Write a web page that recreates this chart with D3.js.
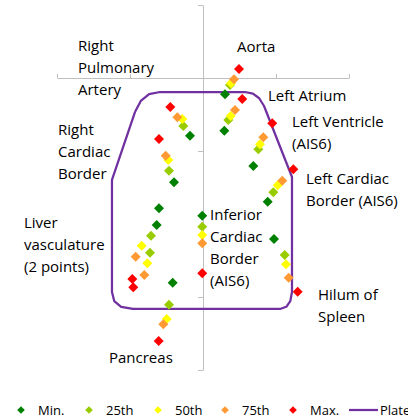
<!DOCTYPE html>
<html>
<head>
<meta charset="utf-8">
<script src="https://cdn.jsdelivr.net/npm/d3@7"></script>
<style>
  body { margin: 0; background: #fff; }
  text { font-family: "Open Sans", sans-serif; fill: #000; }
</style>
</head>
<body>
<div class="chart"></div>
<script>
// landmarks: Aorta, L.Atrium, R.Pulm.Artery, L.Ventricle, R.Cardiac, L.Cardiac, Liver 1, Liver 2, Inf.Cardiac, Hilum, Pancreas
var minX = [30.1, 29.2, -17.8, 68.9, -39.7, 88.6, -60.3, -63.4, -1, 97.3, -41.5];
var minY = [122.3, 172.2, 179, 220.5, 242.9, 269.5, 278.5, 301.4, 288.6, 320.5, 380.4];
var p25X = [37, 34.7, -27, 75.8, -46.6, 96.3, -71.2, -72.6, -1, 111.9, -46.6];
var p25Y = [109.6, 157.5, 165.8, 197.7, 227, 256.6, 316, 339.3, 303.7, 342.5, 410.5];
var p50X = [38.4, 37.9, -28.4, 78.1, -47.5, 102.3, -84, -76.3, -1, 113.7, -49.7];
var p50Y = [107.3, 152.1, 156.2, 190.8, 212.3, 247, 329.7, 353.8, 315.1, 355.2, 430.1];
var p75X = [42.5, 43.8, -35.2, 82.6, -51.1, 108.6, -92.2, -80.4, -1, 117.4, -54.4];
var p75Y = [101.8, 143.8, 153.8, 181.2, 206.4, 240.7, 344.8, 369.9, 326.4, 373.6, 437.4];
var maxX = [49.3, 53.8, -44.8, 94.9, -60.3, 123.7, -96.8, -95.5, -1, 129.7, -60.7];
var maxY = [87.7, 128.8, 139.7, 162.1, 183.6, 225.1, 375.3, 386.7, 367.5, 392.7, 460.3];

// plate outline
var plateX = [-93.2, -85.2, -73.8, -58.9, 57.5, 68.4, 77.0, 83.6, 121.9, 121.9, 119.6, 114.1, 105.5, -95.9, -112.1, -121.6, -124.7, -124.7, -93.2];
var plateY = [146.6, 131.4, 122.2, 119.2, 119.2, 121.4, 127.7, 138.4, 235.6, 393.2, 405.6, 413.4, 416.4, 416.4, 413.4, 405.6, 393.2, 239.7, 146.6];

var series = ["Min.", "25th", "50th", "75th", "Max."];
var color = ["#008000", "#99cc00", "#ffff00", "#ff9933", "#ff0000"];
var seriesX = [minX, p25X, p50X, p75X, maxX];
var seriesY = [minY, p25Y, p50Y, p75Y, maxY];

var xTicks = [-200, -100, 0, 100, 200];
var yTicks = [0, 200, 400, 500];

var labels = [
  {lines: ["Right", "Pulmonary", "Artery"], x: 78, y: 51},
  {lines: ["Aorta"], x: 237, y: 52},
  {lines: ["Left Atrium"], x: 268, y: 101},
  {lines: ["Left Ventricle", "(AIS6)"], x: 292, y: 127},
  {lines: ["Right", "Cardiac", "Border"], x: 58, y: 135},
  {lines: ["Left Cardiac", "Border (AIS6)"], x: 306, y: 184},
  {lines: ["Inferior", "Cardiac", "Border", "(AIS6)"], x: 210, y: 220},
  {lines: ["Liver", "vasculature", "(2 points)"], x: 24, y: 228},
  {lines: ["Hilum of", "Spleen"], x: 318, y: 300},
  {lines: ["Pancreas"], x: 109, y: 363}
];

var svg = d3.select(".chart")
            .append("svg")
            .attr("width", 408)
            .attr("height", 419);

var x = d3.scaleLinear().domain([-200, 200]).range([57, 349]);
var y = d3.scaleLinear().domain([0, 500]).range([5, 370]);

// axes cross at x=0 / y=100
var yAxis = svg.append("g")
    .attr("transform", "translate(" + x(0) + ",0)")
    .call(d3.axisLeft(y).tickValues(yTicks).tickSize(5).tickSizeOuter(0).tickFormat(""));
var xAxis = svg.append("g")
    .attr("transform", "translate(0," + y(100) + ")")
    .call(d3.axisTop(x).tickValues(xTicks).tickSize(4).tickSizeOuter(0).tickFormat(""));
svg.selectAll(".domain, .tick line")
    .attr("stroke", "#bfbfbf")
    .attr("stroke-width", 1);

var diamond = function(r) {
  return "M0," + (-r) + "L" + r + ",0L0," + r + "L" + (-r) + ",0Z";
};

// plate
var plateLine = d3.line()
    .x(function(d) { return x(d[0]); })
    .y(function(d) { return y(d[1]); });
svg.append("path")
    .datum(d3.zip(plateX, plateY))
    .attr("d", plateLine)
    .attr("fill", "none")
    .attr("stroke", "#7030a0")
    .attr("stroke-width", 2.25)
    .attr("stroke-linejoin", "round");

// markers
for (var s = 0; s < series.length; s++) {
  svg.append("g").selectAll("path")
    .data(d3.zip(seriesX[s], seriesY[s]))
    .join("path")
    .attr("d", diamond(5))
    .attr("transform", function(d) { return "translate(" + x(d[0]) + "," + y(d[1]) + ")"; })
    .attr("fill", color[s]);
}

// labels
labels.forEach(function(l) {
  var t = svg.append("text")
      .attr("x", l.x)
      .attr("y", l.y)
      .style("font-size", "15px");
  l.lines.forEach(function(line, i) {
    t.append("tspan")
      .attr("x", l.x)
      .attr("dy", i == 0 ? 0 : 22)
      .text(line);
  });
});

// legend
var legendX = [21, 89, 158, 225, 293];
for (var i = 0; i < series.length; i++) {
  svg.append("path")
    .attr("d", diamond(3.8))
    .attr("transform", "translate(" + legendX[i] + ",410)")
    .attr("fill", color[i]);
  svg.append("text")
    .attr("x", legendX[i] + 17)
    .attr("y", 414.5)
    .text(series[i])
    .style("font-size", "13px");
}
svg.append("line")
  .attr("x1", 349).attr("y1", 410)
  .attr("x2", 378).attr("y2", 410)
  .attr("stroke", "#7030a0")
  .attr("stroke-width", 2.25);
svg.append("text")
  .attr("x", 380)
  .attr("y", 414.5)
  .text("Plate")
  .style("font-size", "13px");
</script>
</body>
</html>
